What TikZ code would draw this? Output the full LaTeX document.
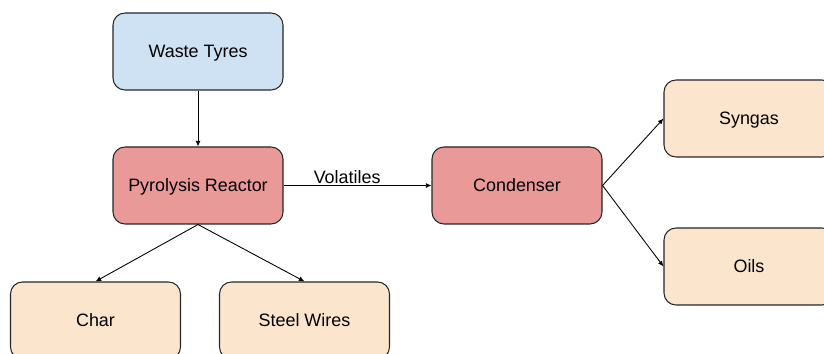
\documentclass[tikz,border=0pt]{standalone}
\usepackage{fontspec}
\setmainfont{Liberation Sans}
\usetikzlibrary{arrows.meta}

\definecolor{bluBox}{HTML}{CFE2F3}
\definecolor{rossoBox}{HTML}{EA9999}
\definecolor{pescaBox}{HTML}{FCE5CD}

\tikzset{
  blocco/.style={draw=black!85, line width=0.6pt, rounded corners=0.24cm,
    minimum width=3.4cm, minimum height=1.54cm,
    text height=7.3pt, text depth=0pt,
    font=\fontsize{10.2}{12}\selectfont},
  freccia/.style={line width=0.5pt, -{Latex[length=3.2pt,width=2.8pt]}}
}

\begin{document}
\begin{tikzpicture}[scale=1]
  \useasboundingbox (0,0) rectangle (16.48,7.08);
  \clip (0,0) rectangle (16.48,7.08);
  % Blocchi del processo
  \node[blocco, fill=bluBox] (tyres) at (3.96,6.05) {Waste Tyres};
  \node[blocco, fill=rossoBox] (reactor) at (3.96,3.37) {Pyrolysis Reactor};
  \node[blocco, fill=rossoBox] (condenser) at (10.34,3.37) {Condenser};
  % Prodotti
  \node[blocco, fill=pescaBox] (syngas) at (14.98,4.71) {Syngas};
  \node[blocco, fill=pescaBox] (oils) at (14.98,1.75) {Oils};
  \node[blocco, fill=pescaBox] (char) at (1.91,0.67) {Char};
  \node[blocco, fill=pescaBox] (wires) at (6.09,0.67) {Steel Wires};
  % Collegamenti
  \draw[freccia] (tyres) -- (reactor);
  \draw[freccia] (reactor) -- node[pos=0.43, above, inner sep=1pt,
    font=\fontsize{10.2}{12}\selectfont] (volatiles) {Volatiles} (condenser);
  \draw[freccia] (reactor.south) -- (char.north);
  \draw[freccia] (reactor.south) -- (wires.north);
  \draw[freccia] (condenser.east) -- (syngas.west);
  \draw[freccia] (condenser.east) -- (oils.west);
\end{tikzpicture}
\end{document}
